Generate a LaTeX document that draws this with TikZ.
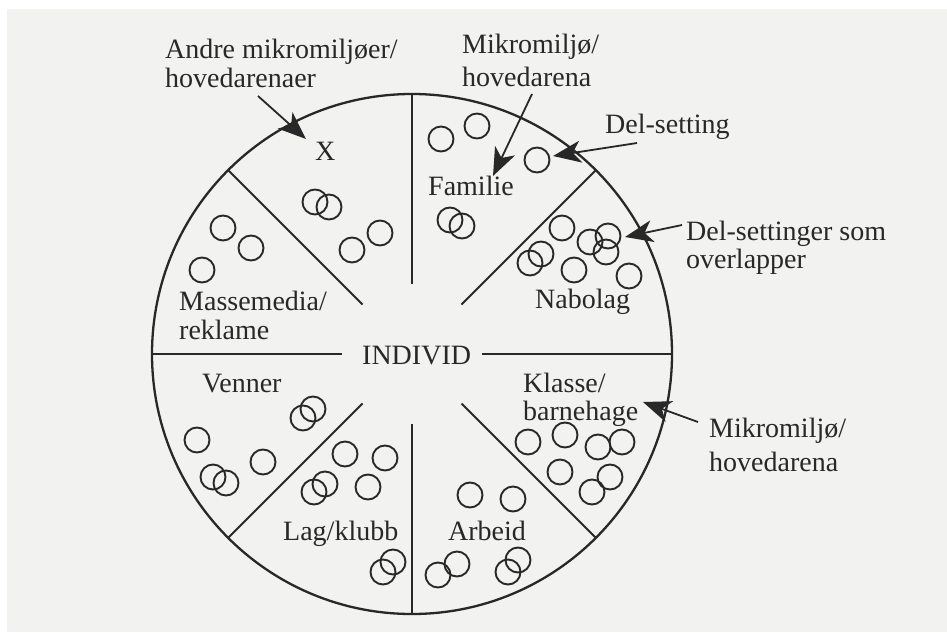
\documentclass[tikz,border=0pt]{standalone}
\usepackage{fontspec}
\setmainfont{Liberation Serif}
\usetikzlibrary{positioning, calc, arrows.meta}

\definecolor{ink}{RGB}{40,40,40}
\definecolor{paper}{RGB}{242,242,240}

\begin{document}
\begin{tikzpicture}[x=1pt, y=-1pt,
    lbl/.style={inner sep=0pt, text=ink, align=left,
      font=\fontsize{28}{30}\selectfont},
    ring/.style={draw=ink, line width=1.9pt},
    pointer/.style={draw=ink, line width=1.8pt,
      -{Stealth[length=28pt, width=22pt, inset=8pt]}}]
  \useasboundingbox (0,0) rectangle (947,632);
  \fill[white] (0,0) rectangle (947,632);
  \fill[paper] (7,9) rectangle (947,632);

  % the individual in the middle
  \coordinate (ctr) at (412,354);
  \draw[ink, line width=2.3pt] (ctr) circle[radius=260];
  \foreach \a in {0,45,...,315}
    \draw[ink, line width=2.1pt] (ctr) ++(\a:70) -- +(\a:190);
  \node[lbl, anchor=base west] (individ) at (362,364) {INDIVID};

  % arenas
  \node[lbl, anchor=base west] (x) at (315,160) {X};
  \node[lbl, anchor=base west] (familie) at (428,195) {Familie};
  \node[lbl, anchor=base west] (nabolag) at (535,308) {Nabolag};
  \node[lbl, anchor=north west] (klasse) at (523,373) {Klasse/\\[-2pt]barnehage};
  \node[lbl, anchor=base west] (arbeid) at (448,540) {Arbeid};
  \node[lbl, anchor=base west] (lagklubb) at (283,540) {Lag/klubb};
  \node[lbl, anchor=base west] (venner) at (202,392) {Venner};
  \node[lbl, anchor=north west] (massemedia) at (179,291) {Massemedia/\\[-1pt]reklame};

  % settings
  \foreach \p in {(441,139),(477,126),(537,160),(450,220),(462,226),
      (315,202),(329,207),(352,250),(380,233),
      (223,228),(251,248),(202,270),
      (562,228),(590,242),(608,236),(606,252),(541,254),(530,263),(574,270),(629,276),
      (303,418),(313,409),(197,440),(213,477),(226,483),(263,462),
      (345,454),(385,458),(325,484),(314,492),(368,487),(383,572),(393,562),
      (470,495),(513,499),(438,575),(457,564),(508,572),(518,560),
      (528,442),(565,435),(598,447),(622,442),(560,472),(610,477),(592,492)}
    \draw[ring] \p circle[radius=12.5];

  % explanations
  \node[lbl, anchor=north west] (andre) at (165,39) {Andre mikromiljøer/\\[-1pt]hovedarenaer};
  \node[lbl, anchor=north west] (mikro1) at (462,34) {Mikromiljø/\\[3pt]hovedarena};
  \node[lbl, anchor=base west] (delset) at (605,133) {Del-setting};
  \node[lbl, anchor=north west] (overlap) at (686,221) {Del-settinger som\\[-2pt]overlapper};
  \node[lbl, anchor=north west] (mikro2) at (709,418) {Mikromiljø/\\[4pt]hovedarena};

  \coordinate (andreTail) at (258,96);
  \coordinate (andreTip) at (306,139);
  \coordinate (mikro1Tail) at (532,94);
  \coordinate (mikro1Tip) at (493,176);
  \coordinate (delsetTail) at (637,143);
  \coordinate (delsetTip) at (553,156);
  \coordinate (overlapTail) at (682,225);
  \coordinate (overlapTip) at (625,237);
  \coordinate (mikro2Tail) at (698,422);
  \coordinate (mikro2Tip) at (643,402);

  \draw[pointer] (andreTail) -- (andreTip);
  \draw[pointer] (mikro1Tail) -- (mikro1Tip);
  \draw[pointer] (delsetTail) -- (delsetTip);
  \draw[pointer] (overlapTail) -- (overlapTip);
  \draw[pointer] (mikro2Tail) -- (mikro2Tip);
\end{tikzpicture}
\end{document}
